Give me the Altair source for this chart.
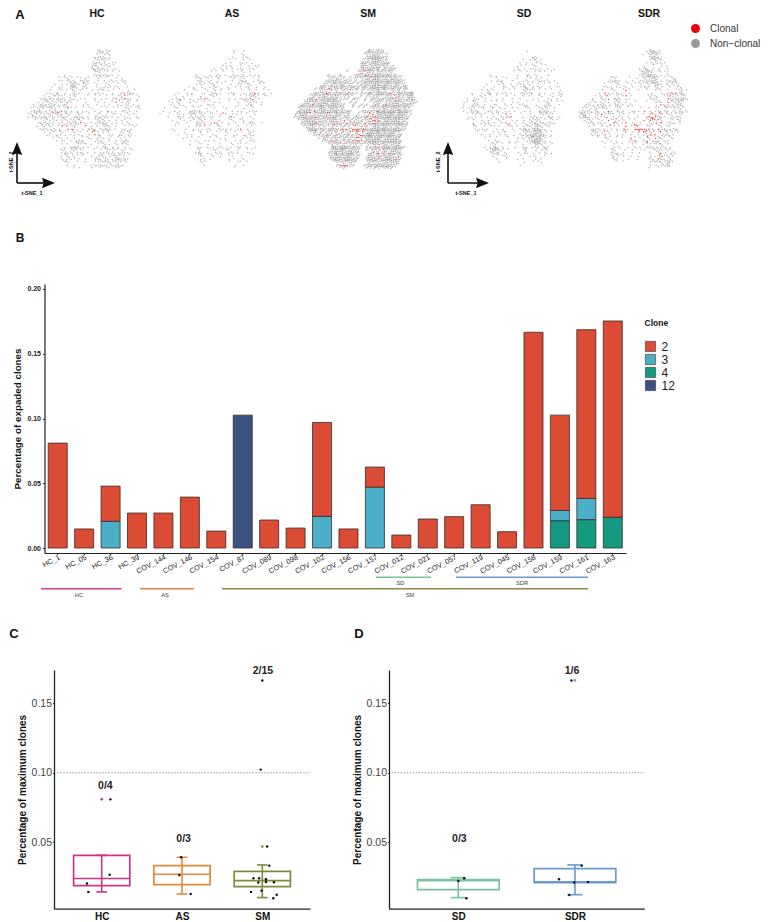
import altair as alt
import pandas as pd

W, H = 753, 913
FONT = "Liberation Sans"

# ---------- t-SNE panels: occupancy, one character per 3 px cell
# '.' one grey dot, ':' a few, '#' many, 'r' one red, 'R' two red
map_hc = [
"",
"                        .:.:.",
"                        ..:.:",
"                       ..:: .",
"                       .:.:..",
"                       :.:. ...",
"                      .::..:..",
"                      :::.:. ..",
"                       ::. . . .",
"             .         :.r.:.. .",
"           . .:: .. ..  .. .  . .",
"           .. .:: .::.  . . .:. :.",
"          . . .:#:..:. ..  ..  . .",
"         . ..  ::: .:   . .:. ..  .",
"        .  .. .:: ..  . .:. .. .  . .",
"       .. .. .  : .  . .. .  .  .:::.",
"      . .:.:.. .:.   . . . . . .:r.. ..",
"     ..:r..:.. :. . .  . . . .r.:r:. .",
"    . .:::.:..r: .  .  .. .  .r.. :. .",
"   . ::.::.. .:    . .  . . .  .. : . .",
"  ..::.::.:. :r. . . ..  . . . . .:. .:",
"  .:.: .:.:.r:.. . ..  . . .. . .: . .",
" .::.:..:r:r:.:. .:. .  .. . :. . : .",
" ..:::.:.: .:.. .::: . .:.:: . . ..  :",
"   . ..:.:. .:..:::. . .::: . . .. .",
"    .:.:.. .. .:::r.. ..:::. .. . :",
"    . :.:. .r.r.:.  r . . ::: .  . .:.",
"     :.:. :.  r.r  . r:. :.:. . .. .",
"      . .: .:.  :..  .rr. .:.   :.:.",
"       .. . .. .. .. . r..  :. .: ..",
"         . :. . .  . :. .:. .  ... .",
"          . .. . ::.   .:.  . . :.:",
"            . .  :.:. . ..: . : .:.",
"             . .:::. .  . :: . . .",
"            :. .::..   . . :.: .:. :",
"            ..:: ..: . . :.:.: :..:",
"            .:. :. .  . ..: .::. .",
"            . .:. . .  .:. : .:.::.",
"             ::  .  .  ..:.::.:: :",
"              . .     .:.:.. :.:.",
"                . .   .  . .. .:",
]
map_as = [
"",
"                         .  .",
"                         .  :",
"                        .   .:",
"                       . .  . .",
"                      . .  ... .",
"                     .. :  .  . :.",
"                  .  :. . .:  .:",
"                 . . .  .  .. .",
"            .    . .: .  :. : . ..",
"            .:.:.. :.  .:. .:. . .",
"             :: .. .  . .  ::. . :.",
"            . :. .:. .  . .: ::  . .",
"          ..  .  .:.   . . . :. .  .",
"        .  .:  .. : .. .   .  . .  ..",
"      .  . .  ..  ::.  .:.  . .:r. . .",
"     .  .. .  .  .:.     . . .:::. :.",
"    . :r. .  .:r:   .  . . .::r. .",
"   .. :.  ...  .  . .  .  .  :.:. .",
"    .  :.  .  . .:.       .  .:.  .",
"  .  :.  . . .  . .  ..  .  .  :",
" .   . .  .::.: .  .    . ..  .:.",
".  .  : . :::.:. :  .r. . .. .  .",
"   .  .:. .:.:.. .. .  .r.  . .",
"    .  .. .: .:. .  .  .:  .:  .",
"      :  .  .:.. .r. . . .  . r:  .",
"     .    . .:.r . ::  .  .  . .",
"    .    . .  . .:  :.. . .r .",
"     .  .  . :. .  .  :  . .  :.",
"      .  . .  .   ..  .  .. . :.",
"        .. . .   . .. .  .  .:.",
"          . .  .. .   .  . .  .:",
"          .  .. .   .   : .. .",
"             .. . . .:  . :. .  .",
"             :   .:.  .:  .  . .",
"            .:: .  ::  .: .  ...",
"             :.  .. .  ..  .",
"              .. .     . .  :",
"              :.       .  .. .",
"               .         .  .",
"                         .",
]
map_sm = [
"",
"                        .:.::.",
"                       .::#:::.",
"                        :###:.:",
"                       .::###:.",
"                      .:.:#:#:..",
"                      :#::::::::.",
"                      ##:#:::.:::.",
"                 .   .#r#::::::.:",
"           .   .    .:#r#:##:#:.:.",
"           ..:.:. . ..::#r###:::::::",
"          .:.:::.:. . .:#:###:###:::.",
"          :.:::#:.:. ..:#####:##:::::",
"        .::#:r:::::.:.:.:####:#::.:.:.",
"       .:::rr:::.:r:.....:####:.:::::.",
"      .:::r::::r:.... ....:###:.r::.::::",
"     .:.::#::::::.:.  . .:.:.:.:#r#:.::#",
"    .::r:##::::... ... . ...:.::r:#::.##",
"   .:#:::###:#:.  . .  . ...::.::r:::.::.",
"  .:##r:###::#::.  .  . . ..:.r:###:::::",
" .:##:::##:###::.  . . . .::::#####:::.",
" :###:r:###:##:::..   .:..:r#####:###:.",
".###:r::##:r:##:::.  . .:rr##########:.",
".:###::r:::##:::.:: .:.:r#R####:#####:",
" .:##:###:.:##:.r:...:.::rR#r###:####.",
"  .:###r#:..::r:.r:.:.:r:#r#:###:###:.",
"   :##:::..r:r.:...rr:r:r:##:#:#:::##.",
"    :##:.:.:.:..rr:rRR:r#:#######:##.",
"     :#:r...::.:r:rr:Rr:######:###:.",
"      ..r..:...:.:..:rR:##########:.",
"        .:.:.::.:.:.:R::#######:###.",
"         .:.r.:.:.:r:Rr.:####:##:##.",
"           .:.:r:.:.:.:.:###r##:###.",
"            .#:###:.:.  ...:r:###:##.",
"            :####:#::.  .:::r::###::",
"           .:###:###:.   .r:r::r###.",
"            ###:####..  .###r###::r.",
"            :###:##::.  :##:r###:##.",
"             .:##:#:.   :#::::#:###",
"              .rRr:.   .:::.:###::",
"               .::      .:..::.:.",
]
map_sd = [
"",
"                       .",
"",
"                         .:",
"                      . .:: .",
"                     . .  . :",
"                    .. . :.  .",
"                    : . ... . . .",
"                   . . .  .: . .",
"           .        .  .: :   .",
"           . r ..   .  .. . .",
"           . .:.  .   .: . :..: .",
"          .   .:  . .:. :. . . . .",
"         .  .  .: .. .:: . :.  . ..",
"        . :..  . . .  ::.: . . .  .",
"     .  . :: . .: .  .:.:. . .  . :",
"     .  :. . .  .  .  . .  .:  .. :.",
"   .  :. .   . .  .  .   . .  .. .",
"  .. r:  . . . .  . .  .   . .:. . .",
"  .  .:. .  ..  : .  .:.  .  .::  .",
"  . :: .:. :. : . . .  .:  .:.: .",
"  .  ::.  .: :  .. .  . .  .::. .",
"   . :.:..  .: .r .  .  .  .:::: ",
"    . . . . .  :.:r   .  :: . .:. .",
"   . :  . .. .:.  . . . :.:: . : .",
"     .  .:. .  .r. .  . .:: ::.:.",
"     .:  . :. .  r: . .::.#:: :.",
"      ... .  . .  .  :::.##:.",
"       . .  . .:.  .  ::: ##:: .",
"        .  .  . :  . :.:.###:: .",
"         . . .   .  . ::.###:: .",
"          .  :.  .  .  .:###::",
"           .:. . . .  . .:#::. :",
"         . .:: .   .  :. .:. :.",
"          .:##:. .    :.  . .:.",
"           :::. :   . .: . . : .",
"            .. .:    .  . :  .",
"             .  .   . .   . .",
"              .       .  . ..",
"                     .",
]
map_sdr = [
"",
"                       .:::.",
"                      . :##:",
"                        :#:..",
"                        .:::.",
"                       . :: :.",
"                      .  .  . .",
"                     .:: . .  .",
"                     :##:. : ..",
"                     .:##:: . :",
"           .:.   .  . :.:#:. . .:",
"          .:.:. . .  .:::#: . ::#",
"         . . :.  ... : .::#:. : ::",
"         .:. .. : .  ..:. : .  . .:",
"        .  .:  .r.  .  .  .:  .  .:..",
"       . r. .:   .       .  . .::r::",
"      . :.r. . :r .     :.:  .:r.: :.",
"     .  :.r .:: ..      .:.   r:.::#:",
"    .:. :.. .:. .  .   .  .:. r.:::: ",
"   .:. .:: . ::. .:       . r:. :.::",
"  .:. ::.:.  :.  .   .  . .. :.::.:.",
"  :.: :.  r. .:.  ... r . .:.:. : :.:",
" ## :.:.r:.:. .: . .  . .r:rr :. .:.",
" :#:. . .:. . .. .  .  .rRr::.  :.:",
"  ..:. :. r.:r.: . .  r:rR:r:  : .:",
"   :.: .:.  r: .r .  .  :.r.r .:. .",
"    ..  . .r. . r .Rr. .:. .: :.",
"     ..: . . . .r. rRRr.r: r.: .:.",
"     #: .r:  . .r . .rRr:. :r:.: :",
"     ::. r . . .  . . .:r.r .:: .",
"       . .:. . .  r. . r: r::. :.",
"        .  . .   .:r. :r .r. :.",
"         .  .. .  ..  .r.:.:: .",
"         .  . :  . : . .::. .: .",
"           .:   . .  ..  .::. :.",
"           .:. .  .  .  :  :r. .:",
"            :: :  . .   . .rr.::",
"            :.   .  .   .: r:. .",
"             . .        .:.::.#:",
"                        . . .:#",
"                        .  .",
]
panel_names = ["HC", "AS", "SM", "SD", "SDR"]
panel_maps = [map_hc, map_as, map_sm, map_sd, map_sdr]
clonal_labels = ["Clonal", "Non\u2212clonal"]

# ---------- bar chart
samples = ["HC_1","HC_05","HC_36","HC_39","COV_144","COV_146","COV_154","COV_87","COV_089","COV_098",
           "COV_102","COV_156","COV_157","COV_012","COV_021","COV_057","COV_119","COV_045","COV_158",
           "COV_159","COV_161","COV_163"]
clone_2  = [.081,.0147,.0272,.027,.027,.0393,.0131,0,.0216,.0154,.0725,.0147,.0155,.01,.0224,.0242,.0334,.0126,.1666,.0736,.1303,.1516]
clone_3  = [0,0,.0206,0,0,0,0,0,0,0,.0244,0,.047,0,0,0,0,0,0,.0079,.0164,0]
clone_4  = [0,0,0,0,0,0,0,0,0,0,0,0,0,0,0,0,0,0,0,.0211,.0219,.0237]
clone_12 = [0,0,0,0,0,0,0,.1026,0,0,0,0,0,0,0,0,0,0,0,0,0,0]
clone_names = ["2", "3", "4", "12"]
clone_colors = ["#dc4b33", "#4bafca", "#139a80", "#3b5280"]

# ---------- box panels
c_groups = ["HC", "AS", "SM"]
c_q1  = [.0188, .0195, .0181]
c_med = [.0239, .027, .0224]
c_q3  = [.0406, .0332, .0291]
c_lo  = [.0143, .0128, .0102]
c_hi  = [.0406, .0392, .0337]
c_colors = ["#d0348a", "#e6883a", "#7f8a3a"]
c_pts_x = [1.108,.817,.834,1.1, 1.99,1.967,2.108, 3,2.98,3.06,3.087,2.89,2.96,3.046,2.95,3.046,3.145,2.86,2.99,3.18,3.137]
c_pts_y = [.0809,.0203,.0143,.0267, .0392,.0265,.0128, .1665,.1023,.0469,.0332,.0241,.0241,.0234,.021,.0215,.0212,.0143,.0152,.0123,.0097]
c_out_x = [1, 3]
c_out_y = [.0809, .0469]
c_out_g = ["HC", "SM"]
c_lab = ["0/4", "0/3", "2/15"]
c_lab_x = [1.046, 2.02, 3.008]
c_lab_y = [.0908, .0524, .1733]

d_groups = ["SD", "SDR"]
d_q1  = [.0159, .021]
d_med = [.0224, .0215]
d_q3  = [.0231, .0311]
d_lo  = [.0102, .0123]
d_hi  = [.0246, .0337]
d_colors = ["#79c3a0", "#6a9bd0"]
d_pts_x = [1,1.05,1.07, 1.97,2.057,1.863,1.994,2.111,1.951]
d_pts_y = [.0222,.0241,.0097, .1665,.0332,.0234,.021,.0215,.0121]
d_out_x = [2]
d_out_y = [.1665]
d_out_g = ["SDR"]
d_lab = ["0/3", "1/6"]
d_lab_x = [1.009, 1.974]
d_lab_y = [.0524, .1733]

one = pd.DataFrame({"t": [""]})
layers = []

def text(s, x, y, size, bold=False, color="#111", angle=None):
    kw = dict(font=FONT, fontSize=size, color=color, align="center", baseline="middle")
    if bold:
        kw["fontWeight"] = "bold"
    if angle is not None:
        kw["angle"] = angle
    layers.append(alt.Chart(pd.DataFrame({"t": [s]})).mark_text(**kw).encode(
        x=alt.value(x - 8), y=alt.value(y - 8), text=alt.Text("t:N")))

def hline(x0, x1, y, color, width=1.6):
    layers.append(alt.Chart(one).mark_rule(color=color, strokeWidth=width).encode(
        x=alt.value(x0 - 8), x2=alt.value(x1 - 8), y=alt.value(y - 8)))

def vline(x, y0, y1, color, width=1.6):
    layers.append(alt.Chart(one).mark_rule(color=color, strokeWidth=width).encode(
        x=alt.value(x - 8), y=alt.value(y0 - 8), y2=alt.value(y1 - 8)))

def arrows(x0, y0, x1, y1):
    vline(x0, y0, y1 + 8, "#111", 1.6)
    hline(x0, x1 - 8, y0, "#111", 1.6)
    layers.append(alt.Chart(one).mark_point(shape="M0,-1 L0.8,1 L0,0.75 L-0.8,1 Z", size=169, filled=True,
                                            color="#111", opacity=1).encode(
        x=alt.value(x0 - 8), y=alt.value(y1 + 6.5 - 8)))
    layers.append(alt.Chart(one).mark_point(shape="M1,0 L-1,-0.8 L-0.75,0 L-1,0.8 Z", size=169, filled=True,
                                            color="#111", opacity=1).encode(
        x=alt.value(x1 - 6.5 - 8), y=alt.value(y0 - 8)))

# ---------- panel A
origins = [24, 158, 294, 456, 576]
tops = 46
# where the dots of one cell sit inside its 3 px square
counts = {".": [(0, 0)], ":": [(-.9, -.6), (.9, .7)], "#": [(-1.1, -1.0), (1.0, -.5), (-.5, 1.1), (1.2, 1.0)],
          "r": [(0, 0)], "R": [(-.9, 0), (.9, .3)]}
counts_dense = {".": [(-.6, .4), (.7, -.8)], ":": [(-1.1, -.7), (1.0, -.9), (0, 1.0)],
                "#": [(-1.2, -1.1), (.9, -1.2), (-.8, .9), (1.1, .8)],
                "r": [(0, 0)], "R": [(-.9, 0), (.9, .3)]}
nudge_x = [-.9, .5, -.3, 1.0, -.6, .2, .8]
nudge_y = [.7, -.8, .2, -.3, .9, -.6]
for idx, (name, rows, ox) in enumerate(zip(panel_names, panel_maps, origins)):
    table = counts_dense if name == "SM" else counts
    xs, ys, kinds = [], [], []
    for i, row in enumerate(rows):
        for j, ch in enumerate(row):
            if ch == " ":
                continue
            for dx, dy in table[ch]:
                xs.append(3 * j + 1.5 + dx + nudge_x[(i * i + 3 * j * j + i * j) % 7])
                ys.append(3 * i + 1.5 + dy + nudge_y[(2 * i * i + j * j + 5 * i * j) % 6])
                kinds.append(clonal_labels[0] if ch in "rR" else clonal_labels[1])
    df = pd.DataFrame({"x": xs, "y": ys, "kind": kinds})
    df["o"] = (df["kind"] == clonal_labels[0]).astype(int)
    df = df.sort_values("o", kind="stable")
    legend = None
    if idx == 0:
        legend = alt.Legend(title=None, orient="none", legendX=682, legendY=15, symbolSize=80, symbolOpacity=1,
                            symbolType="circle", labelFont=FONT, labelFontSize=10, labelColor="#333",
                            rowPadding=4, labelOffset=9)
    layers.append(alt.Chart(df).mark_circle(size=2.4, opacity=0.75).encode(
        x=alt.X("x:Q", axis=None, scale=alt.Scale(domain=[0, 120], range=[ox - 8, ox + 112], nice=False, zero=False)),
        y=alt.Y("y:Q", axis=None, scale=alt.Scale(domain=[0, 125], range=[tops - 8, tops + 117], nice=False, zero=False)),
        color=alt.Color("kind:N", scale=alt.Scale(domain=clonal_labels, range=["#ee0000", "#999999"]), legend=legend),
    ))

for name, x in zip(panel_names, [97, 232, 368, 524, 649]):
    text(name, x, 14, 10.5, bold=True)
text("A", 20, 15, 13, bold=True)
arrows(17, 183, 55, 142)
arrows(448, 183, 489, 142)
text("t-SNE_1", 32, 193, 5.5, bold=True)
text("t-SNE_1", 466, 193, 5.5, bold=True)
text("t-SNE_2", 11, 162, 5.5, bold=True, angle=270)
text("t-SNE_2", 438, 162, 5.5, bold=True, angle=270)

# ---------- panel B
rows = []
for s, a, b, c, d in zip(samples, clone_2, clone_3, clone_4, clone_12):
    for name, val, order in (("4", c, 0), ("3", b, 1), ("12", d, 2), ("2", a, 3)):
        if val > 0:
            rows.append({"sample": s, "clone": name, "value": val, "o": order})
bars = pd.DataFrame(rows)
b_top, b_bottom, b_left, b_right = 284 - 8, 553 - 8, 44.5 - 8, 626 - 8
layers.append(alt.Chart(bars).mark_bar(stroke="#3a2b2b", strokeWidth=0.8).encode(
    x=alt.X("sample:N", sort=samples, scale=alt.Scale(domain=samples, range=[b_left, b_right], paddingInner=0.28, paddingOuter=0.14),
            axis=alt.Axis(title=None, orient="bottom", labelAngle=-28, labelAlign="right", labelBaseline="middle", labelFont=FONT, labelFontSize=7.3,
                          labelColor="#222", labelPadding=2, labelOffset=2, tickSize=1.5, tickColor="#333", domainColor="#222", domainWidth=1.2,
                          offset=b_bottom - H, grid=False, labelOverlap=False)),
    y=alt.Y("value:Q", stack="zero", scale=alt.Scale(domain=[-.00386, .20386], range=[b_bottom, b_top], nice=False, zero=False),
            axis=alt.Axis(title="Percentage of expaded clones", orient="left", values=[0, .05, .1, .15, .2], format=".2f", labelFont=FONT,
                          labelFontSize=7, labelFontWeight="bold", labelColor="#222", tickSize=2, tickColor="#333", labelPadding=2,
                          domainColor="#222", domainWidth=1.2, offset=-b_left, grid=False, titleFont=FONT, titleFontSize=9.8,
                          titleFontWeight="bold", titleColor="#111", titlePadding=4)),
    color=alt.Color("clone:N", sort=clone_names, scale=alt.Scale(domain=clone_names, range=clone_colors),
                    legend=alt.Legend(title="Clone", orient="none", legendX=636.5, legendY=311, symbolType="square", symbolSize=105,
                                      symbolStrokeColor="#555", symbolStrokeWidth=0.8, labelFont=FONT, labelFontSize=12, labelColor="#222",
                                      titleFont=FONT, titleFontSize=8.5, titleFontWeight="bold", titleColor="#111", titlePadding=13,
                                      rowPadding=-1.5, labelOffset=5)),
    order=alt.Order("o:Q"),
))
text("B", 20, 238, 12, bold=True)
hline(41, 121.5, 588.7, "#d6398f")
hline(140, 194, 588.7, "#e6883a")
hline(222, 588, 588.7, "#8b8a44")
hline(376, 431, 577.3, "#79c3a0")
hline(456, 588, 577.3, "#6a9bd0")
for s, x, y in (("HC", 79, 595), ("AS", 165, 595), ("SM", 410, 595), ("SD", 400.5, 583), ("SDR", 522, 583)):
    text(s, x, y, 5.8, color="#444")

# ---------- panels C, D
def box_panel(groups, q1, med, q3, lo, hi, colors, px, py, ox, oy, og, lab, lx, ly, left, right):
    n = len(groups)
    pos = list(range(1, n + 1))
    xs = alt.Scale(domain=[.406, n + .594], range=[left - 8, right - 8], nice=False, zero=False)
    ys = alt.Scale(domain=[.0022, .174], range=[900.7, 662], nice=False, zero=False)
    cs = alt.Scale(domain=groups, range=colors)
    colr = alt.Color("group:N", scale=cs, legend=None)
    X = lambda f: alt.X(f, scale=xs, axis=None)
    Y = lambda f: alt.Y(f, scale=ys, axis=None)
    base = pd.DataFrame({"group": groups, "pos": pos, "q1": q1, "med": med, "q3": q3, "lo": lo, "hi": hi})
    base["l"] = base["pos"] - .35
    base["r"] = base["pos"] + .35
    base["cl"] = base["pos"] - .066
    base["cr"] = base["pos"] + .066
    labs = [""] + groups
    expr = "[" + ",".join("'%s'" % g for g in labs) + "][datum.value]"
    # reference line and the two axes
    ref = pd.DataFrame({"x": [.45 if n == 3 else .43], "x2": [n + .594], "y": [.1]})
    layers.append(alt.Chart(ref).mark_rule(color="#555", strokeWidth=0.9, strokeDash=[1, 2]).encode(
        x=alt.X("x:Q", scale=xs, axis=alt.Axis(title=None, orient="bottom", values=pos, labelExpr=expr, labelFont=FONT, labelFontSize=10,
                                               labelFontWeight="bold", labelColor="#111", tickSize=0, labelPadding=3,
                                               domainColor="#222", domainWidth=1.3, offset=900.7 - H, grid=False)),
        x2="x2:Q",
        y=alt.Y("y:Q", scale=ys, axis=alt.Axis(title="Percentage of maximum clones", orient="left", values=[.05, .1, .15], format=".2f",
                                               labelFont=FONT, labelFontSize=10.5, labelColor="#444", tickSize=1.5, tickColor="#333",
                                               labelPadding=1, domainColor="#222", domainWidth=1.3, offset=-(left - 8), grid=False,
                                               titleFont=FONT, titleFontSize=10, titleFontWeight="bold", titleColor="#111",
                                               titlePadding=4)),
    ))
    layers.append(alt.Chart(base).mark_rect(fillOpacity=0, strokeWidth=1.7).encode(
        x=X("l:Q"), x2="r:Q", y=Y("q1:Q"), y2="q3:Q", stroke=alt.Stroke("group:N", scale=cs, legend=None)))
    for a, a2, b, b2 in (("l", "r", "med", None), ("pos", None, "lo", "hi"), ("cl", "cr", "lo", None), ("cl", "cr", "hi", None)):
        enc = dict(x=X(a + ":Q"), y=Y(b + ":Q"), color=colr)
        if a2:
            enc["x2"] = a2 + ":Q"
        if b2:
            enc["y2"] = b2 + ":Q"
        layers.append(alt.Chart(base).mark_rule(strokeWidth=1.6).encode(**enc))
    outl = pd.DataFrame({"x": ox, "y": oy, "group": og})
    layers.append(alt.Chart(outl).mark_circle(size=7, opacity=1).encode(x=X("x:Q"), y=Y("y:Q"), color=colr))
    pts = pd.DataFrame({"x": px, "y": py})
    layers.append(alt.Chart(pts).mark_circle(size=6, opacity=1, color="#111").encode(x=X("x:Q"), y=Y("y:Q")))
    tx = pd.DataFrame({"x": lx, "y": ly, "t": lab})
    layers.append(alt.Chart(tx).mark_text(font=FONT, fontSize=10.5, fontWeight="bold", color="#222").encode(
        x=X("x:Q"), y=Y("y:Q"), text="t:N"))

box_panel(c_groups, c_q1, c_med, c_q3, c_lo, c_hi, c_colors, c_pts_x, c_pts_y, c_out_x, c_out_y, c_out_g,
          c_lab, c_lab_x, c_lab_y, 54, 310)
box_panel(d_groups, d_q1, d_med, d_q3, d_lo, d_hi, d_colors, d_pts_x, d_pts_y, d_out_x, d_out_y, d_out_g,
          d_lab, d_lab_x, d_lab_y, 389, 644.3)
text("C", 14, 634, 13, bold=True)
text("D", 359, 634, 13, bold=True)

chart = alt.layer(*layers).resolve_scale(x="independent", y="independent", color="independent", stroke="independent").properties(
    width=W, height=H, padding=0, autosize=alt.AutoSizeParams(type="none")
).configure_view(stroke=None)

chart.save("out.html", embed_options={"renderer": "svg", "actions": False})
